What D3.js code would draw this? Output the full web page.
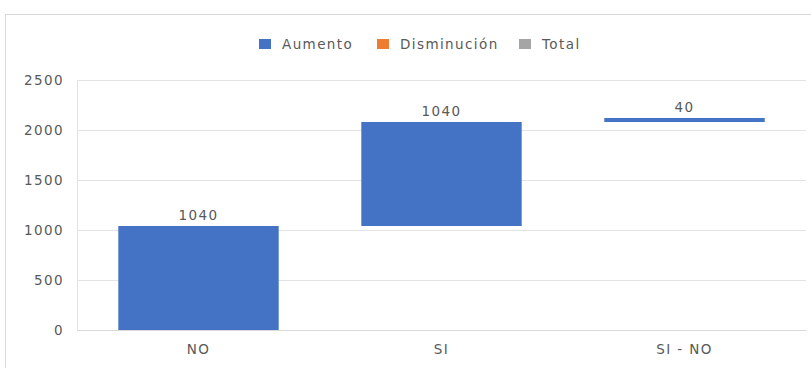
<!DOCTYPE html>
<html>
<head>
<meta charset="utf-8">
<script src="https://cdn.jsdelivr.net/npm/d3@7"></script>
<style>
  html, body { margin: 0; padding: 0; background: #fff; }
  svg text { font-family: "DejaVu Sans", sans-serif; fill: #595959; letter-spacing: 1.4px; }
</style>
</head>
<body>
<svg id="chart" width="811" height="368"></svg>
<script>
// Waterfall steps
const categories = ["NO", "SI", "SI - NO"];
const values = [1040, 1040, 40];
const yTicks = [0, 500, 1000, 1500, 2000, 2500];
const legendItems = ["Aumento", "Disminución", "Total"];
const legendColors = ["#4472C4", "#ED7D31", "#A5A5A5"];

const W = 811, H = 368;
const margin = { left: 77, right: 5, top: 80, bottom: 38 };
const svg = d3.select("#chart");

// Chart frame
svg.append("rect")
  .attr("x", 5.5).attr("y", 14.5)
  .attr("width", W + 10).attr("height", H + 10)
  .attr("fill", "none").attr("stroke", "#D9D9D9");

// Running totals for each step
let acc = 0;
const steps = values.map((v, i) => {
  const start = acc;
  acc += v;
  return { cat: categories[i], value: v, start, end: acc };
});

const x = d3.scaleBand()
  .domain(categories)
  .range([margin.left, W - margin.right])
  .paddingInner(0.34)
  .paddingOuter(0.17);

const y = d3.scaleLinear()
  .domain([0, 2500])
  .range([H - margin.bottom, margin.top]);

// Gridlines
svg.append("g")
  .selectAll("line")
  .data(yTicks)
  .join("line")
  .attr("x1", margin.left).attr("x2", W - margin.right)
  .attr("y1", d => Math.round(y(d)) + 0.5)
  .attr("y2", d => Math.round(y(d)) + 0.5)
  .attr("stroke", "#E3E3E3");

// Plot-area left edge
svg.append("line")
  .attr("x1", margin.left + 0.5).attr("x2", margin.left + 0.5)
  .attr("y1", y(2500)).attr("y2", y(0))
  .attr("stroke", "#E3E3E3");

// Y axis labels
const yAxis = d3.axisLeft(y).tickValues(yTicks).tickFormat(d3.format("d")).tickSize(0).tickPadding(13);
const gy = svg.append("g").attr("transform", `translate(${margin.left},0)`).call(yAxis);
gy.select(".domain").remove();
gy.selectAll("text")
  .style("font-family", "DejaVu Sans, sans-serif")
  .style("font-size", "13.5px")
  .attr("fill", "#595959");

// X axis labels
const xAxis = d3.axisBottom(x).tickSize(0).tickPadding(14);
const gx = svg.append("g").attr("transform", `translate(0,${y(0)})`).call(xAxis);
gx.select(".domain").attr("stroke", "#D9D9D9");
gx.selectAll("text")
  .style("font-family", "DejaVu Sans, sans-serif")
  .style("font-size", "13.5px")
  .attr("fill", "#595959");

// Bars
svg.append("g")
  .selectAll("rect")
  .data(steps)
  .join("rect")
  .attr("x", d => x(d.cat))
  .attr("width", x.bandwidth())
  .attr("y", d => y(d.end))
  .attr("height", d => y(d.start) - y(d.end))
  .attr("fill", legendColors[0]);

// Value labels
svg.append("g")
  .selectAll("text")
  .data(steps)
  .join("text")
  .attr("x", d => x(d.cat) + x.bandwidth() / 2)
  .attr("y", d => y(d.end) - 6)
  .attr("text-anchor", "middle")
  .style("font-size", "13.5px")
  .text(d => d.value);

// Legend
const legendX = [259, 377, 519];
const lg = svg.append("g").selectAll("g")
  .data(legendItems)
  .join("g")
  .attr("transform", (d, i) => `translate(${legendX[i]},39)`);
lg.append("rect")
  .attr("width", 12).attr("height", 10)
  .attr("fill", (d, i) => legendColors[i]);
lg.append("text")
  .attr("x", 23).attr("y", 10)
  .style("font-size", "13.5px")
  .text(d => d);
</script>
</body>
</html>
